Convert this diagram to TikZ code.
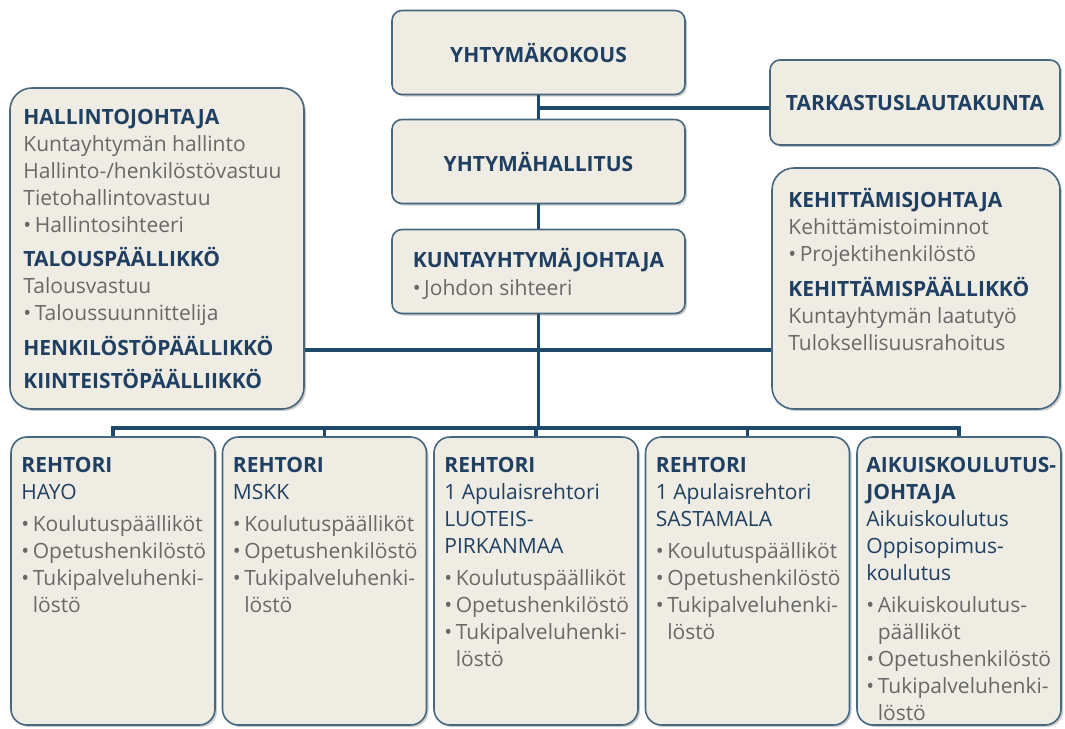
\documentclass[tikz,border=0pt]{standalone}
\usepackage{fontspec}
\setmainfont{Open Sans}
\usetikzlibrary{positioning,shadows}

\definecolor{boxfill}{HTML}{EFEDE3}
\definecolor{boxline}{HTML}{46677F}
\definecolor{connline}{HTML}{1D4A6B}
\definecolor{headblue}{HTML}{1F3F63}
\definecolor{bodygray}{HTML}{686868}

\newcommand{\hd}[1]{\textbf{\textcolor{headblue}{#1}}}
\newcommand{\subhd}[1]{\textcolor{headblue}{#1}}
\newcommand{\itm}[1]{•\,#1}
\newcommand{\cont}[1]{\phantom{•\,}#1}

\begin{document}
\begin{tikzpicture}[x=1pt, y=-1pt, on grid,
  box/.style={draw=boxline, line width=1.6pt, fill=boxfill,
    drop shadow={shadow xshift=2pt, shadow yshift=-2pt, fill=black!40}},
  topbox/.style={box, rounded corners=10pt, minimum width=293pt, minimum height=84pt,
    align=left, text=bodygray, font=\fontsize{21}{28}\selectfont},
  bigbox/.style={box, rounded corners=22pt},
  unitbox/.style={box, rounded corners=16pt, minimum width=204pt, minimum height=288pt},
  txt/.style={anchor=north west, inner sep=0pt, align=left, text=bodygray,
    font=\fontsize{21}{27}\selectfont},
  conn/.style={draw=connline, line width=3.5pt}]

\useasboundingbox (0,0) rectangle (1065,728);


\node[topbox] (kokous) at (538.5,52.5) {\hd{YHTYMÄKOKOUS}};
\node[topbox] (hallitus) [below=109pt of kokous] {\hd{YHTYMÄHALLITUS}};
\node[topbox] (johtaja) [below=110pt of hallitus] {\rule{0pt}{24pt}\hd{KUNTAYHTYMÄJOHTAJA}\\\itm{Johdon sihteeri}};
\node[topbox, minimum width=290pt, minimum height=85pt] (tarkastus) at (915,102.5) {\hd{TARKASTUSLAUTAKUNTA}};


\node[bigbox, minimum width=294pt, minimum height=321pt] (hallinto) at (157,248.5) {};
\node[txt] at ([shift={(14,22)}]hallinto.north west)
  {\hd{HALLINTOJOHTAJA}\\
   Kuntayhtymän hallinto\\
   Hallinto-/henkilöstövastuu\\
   Tietohallintovastuu\\
   \itm{Hallintosihteeri}\\[7pt]
   \hd{TALOUSPÄÄLLIKKÖ}\\
   Talousvastuu\\
   \itm{Taloussuunnittelija}\\[8pt]
   \hd{HENKILÖSTÖPÄÄLLIKKÖ}\\[6pt]
   \hd{KIINTEISTÖPÄÄLLIIKKÖ}};

\node[bigbox, minimum width=288pt, minimum height=241pt] (kehitys) at (916,288.5) {};
\node[txt] at ([shift={(17,21)}]kehitys.north west)
  {\hd{KEHITTÄMISJOHTAJA}\\
   Kehittämistoiminnot\\
   \itm{Projektihenkilöstö}\\[8pt]
   \hd{KEHITTÄMISPÄÄLLIKKÖ}\\
   Kuntayhtymän laatutyö\\
   Tuloksellisuusrahoitus};


\node[unitbox] (r1) at (113,581) {};
\node[unitbox] (r2) [right=211.5pt of r1] {};
\node[unitbox] (r3) [right=211.5pt of r2] {};
\node[unitbox] (r4) [right=211.5pt of r3] {};
\node[unitbox] (r5) [right=211.5pt of r4] {};

\node[txt] at ([shift={(11,21)}]r1.north west)
  {\hd{REHTORI}\\ \subhd{HAYO}\\[5pt]
   \itm{Koulutuspäälliköt}\\ \itm{Opetushenkilöstö}\\
   \itm{Tukipalveluhenki-}\\ \cont{löstö}};
\node[txt] at ([shift={(11,21)}]r2.north west)
  {\hd{REHTORI}\\ \subhd{MSKK}\\[5pt]
   \itm{Koulutuspäälliköt}\\ \itm{Opetushenkilöstö}\\
   \itm{Tukipalveluhenki-}\\ \cont{löstö}};
\node[txt] at ([shift={(11,21)}]r3.north west)
  {\hd{REHTORI}\\ \subhd{1 Apulaisrehtori}\\ \subhd{LUOTEIS-}\\ \subhd{PIRKANMAA}\\[5pt]
   \itm{Koulutuspäälliköt}\\ \itm{Opetushenkilöstö}\\
   \itm{Tukipalveluhenki-}\\ \cont{löstö}};
\node[txt] at ([shift={(11,21)}]r4.north west)
  {\hd{REHTORI}\\ \subhd{1 Apulaisrehtori}\\ \subhd{SASTAMALA}\\[5pt]
   \itm{Koulutuspäälliköt}\\ \itm{Opetushenkilöstö}\\
   \itm{Tukipalveluhenki-}\\ \cont{löstö}};
\node[txt] at ([shift={(10,21)}]r5.north west)
  {\hd{AIKUISKOULUTUS-}\\ \hd{JOHTAJA}\\ \subhd{Aikuiskoulutus}\\
   \subhd{Oppisopimus-}\\ \subhd{koulutus}\\[5pt]
   \itm{Aikuiskoulutus-}\\ \cont{päälliköt}\\ \itm{Opetushenkilöstö}\\
   \itm{Tukipalveluhenki-}\\ \cont{löstö}};


\coordinate (tjunc) at (538.5,108);
\coordinate (sidejunc) at (538.5,350);
\coordinate (bus) at (538.5,428);

\draw[conn] (kokous) -- (hallitus);
\draw[conn] (hallitus) -- (johtaja);
\draw[conn] (johtaja.south) -- (bus);
\draw[conn] (tjunc) -- (tjunc -| tarkastus.west);
\draw[conn] (sidejunc -| hallinto.east) -- (sidejunc -| kehitys.west);

\draw[conn] (r1.north) |- (bus) -| (r5.north);
\foreach \r in {r2,r3,r4}
  \draw[conn] (\r.north) -- (\r.north |- bus);

\end{tikzpicture}
\end{document}
